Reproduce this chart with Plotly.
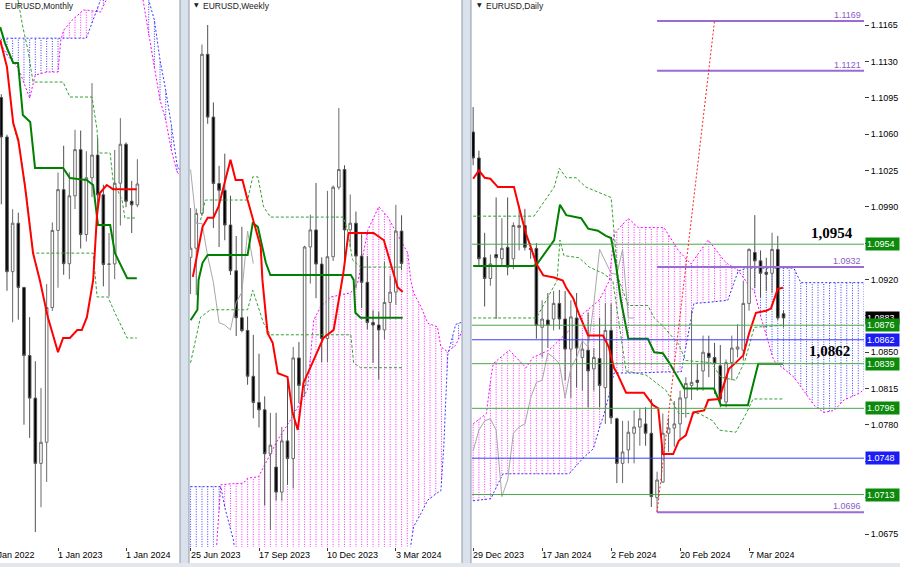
import numpy as np
import plotly.graph_objects as go

# ====================== DATA ======================
# ---------- Monthly (bar index 0 = Jan 2023) ----------
m_x = list(range(-10, 15))
m_open = [1.1220, 1.1067, 1.0545, 1.0733, 1.0484, 1.0220, 1.0055, 0.9802, 0.9884, 1.0406,
          1.0705, 1.0863, 1.0576, 1.0839, 1.1018, 1.0689, 1.0909, 1.0997, 1.0843, 1.0573,
          1.0575, 1.0888, 1.1039, 1.0818, 1.0804]
m_high = [1.1233, 1.1076, 1.0787, 1.0774, 1.0486, 1.0369, 1.0198, 1.0094, 1.0497, 1.0736,
          1.0929, 1.1033, 1.0930, 1.1095, 1.1092, 1.1012, 1.1276, 1.1065, 1.0882, 1.0695,
          1.1017, 1.1140, 1.1046, 1.0897, 1.0981]
m_low = [1.0806, 1.0471, 1.0349, 1.0359, 0.9952, 0.9901, 0.9536, 0.9632, 0.9730, 1.0393,
         1.0483, 1.0533, 1.0516, 1.0788, 1.0635, 1.0662, 1.0834, 1.0766, 1.0488, 1.0448,
         1.0516, 1.0724, 1.0795, 1.0695, 1.0795]
m_close = [1.1067, 1.0545, 1.0733, 1.0484, 1.0220, 1.0055, 0.9802, 0.9884, 1.0406, 1.0705,
           1.0863, 1.0576, 1.0839, 1.1018, 1.0689, 1.0909, 1.0997, 1.0843, 1.0573, 1.0575,
           1.0888, 1.1039, 1.0818, 1.0804, 1.0885]
m_tenkan_x = [-10.2, -9.0, -7.9, -7.0, -5.8, -4.4, -3.2, -1.8, 0, 0.9, 2.1, 3.4, 4.2, 5.1,
              6.2, 6.9, 7.4, 8.6, 9.7, 13.9]
m_tenkan = [1.1443, 1.1338, 1.1121, 1.1055, 1.0873, 1.0617, 1.0512, 1.0369, 1.0233, 1.0288,
            1.0288, 1.0319, 1.0319, 1.0369, 1.0512, 1.0772, 1.0850, 1.0881, 1.0865, 1.0865]
m_kijun_x = [-10.2, -9.35, -7.9, -7.05, -6.2, -4.9, -4.05, 0.9, 2.1, 5.1, 6.2, 7.05, 9.2,
             10.05, 10.9, 12.2, 13.9]
m_kijun = [1.1493, 1.1431, 1.1354, 1.1354, 1.1152, 1.1125, 1.0947, 1.0947, 1.0908, 1.0900,
           1.0881, 1.0726, 1.0726, 1.0617, 1.0578, 1.0520, 1.0520]
m_dash_up_x = [-7.05, -6.2, -5.3, -4.4, 0.9, 2.1, 6.0, 6.9, 7.05, 9.2, 9.7, 11.3, 11.8, 13.9]
m_dash_up = [1.1598, 1.1493, 1.1404, 1.1280, 1.1280, 1.1222, 1.1222, 1.1094, 1.1005, 1.1005,
             1.0900, 1.0823, 1.0753, 1.0753]
m_dash_lo_x = [-7.9, -6.7, -5.5, -4.4, 6.2, 6.9, 8.8, 10.05, 12.2, 13.9]
m_dash_lo = [1.1121, 1.1016, 1.0834, 1.0617, 1.0617, 1.0447, 1.0447, 1.0385, 1.0288, 1.0288]
m_cloud_x = [-10.5, -9, -7, -5.5, -5, -4, -2, 0, 0.5, 1, 2.5, 4.5, 5, 7.5, 8.5, 9.5, 14.5,
             15, 16, 17, 18, 19, 20, 21, 22]
m_span_a = [1.1443, 1.1385, 1.1334, 1.1249, 1.1218, 1.1307, 1.1319, 1.1319, 1.1443, 1.1481,
            1.1520, 1.1559, 1.1559, 1.1551, 1.1598, 1.1700, 1.1700, 1.1598, 1.1462, 1.1338,
            1.1210, 1.1133, 1.1016, 1.0931, 1.0908]
m_span_b = [1.1450, 1.1450, 1.1450, 1.1450, 1.1450, 1.1450, 1.1450, 1.1450, 1.1450, 1.1450,
            1.1450, 1.1450, 1.1450, 1.1598, 1.1650, 1.1700, 1.1700, 1.1650, 1.1598, 1.1520,
            1.1365, 1.1249, 1.1113, 1.0958, 1.0919]
m_date_pos = [-12, 0, 12]
m_date_text = ["1 Jan 2022", "1 Jan 2023", "1 Jan 2024"]

# ---------- Weekly (bar index 0 = 25 Jun 2023) ----------
w_x = list(range(0, 38))
w_open = [1.0895, 1.0910, 1.0967, 1.1228, 1.1125, 1.1016, 1.1005, 1.0948, 1.0873, 1.0796,
          1.0775, 1.0700, 1.0657, 1.0645, 1.0573, 1.0551, 1.0510, 1.0594, 1.0565, 1.0730,
          1.0685, 1.0912, 1.0940, 1.0884, 1.0762, 1.0896, 1.1010, 1.1039, 1.0940, 1.0951,
          1.0897, 1.0854, 1.0788, 1.0784, 1.0776, 1.0821, 1.0838, 1.0938]
w_high = [1.0976, 1.0975, 1.1244, 1.1276, 1.1149, 1.1045, 1.1065, 1.0996, 1.0930, 1.0945,
          1.0798, 1.0768, 1.0737, 1.0667, 1.0640, 1.0640, 1.0617, 1.0695, 1.0748, 1.0756,
          1.0914, 1.0965, 1.1017, 1.0895, 1.1004, 1.1013, 1.1140, 1.1046, 1.0998, 1.0970,
          1.0933, 1.0897, 1.0808, 1.0806, 1.0888, 1.0865, 1.0981, 1.0964]
w_low = [1.0835, 1.0833, 1.0963, 1.1114, 1.0943, 1.0912, 1.0923, 1.0866, 1.0766, 1.0772,
         1.0686, 1.0631, 1.0616, 1.0488, 1.0448, 1.0496, 1.0496, 1.0522, 1.0516, 1.0656,
         1.0667, 1.0852, 1.0828, 1.0723, 1.0723, 1.0889, 1.1006, 1.0877, 1.0911, 1.0844,
         1.0812, 1.0777, 1.0722, 1.0695, 1.0761, 1.0796, 1.0817, 1.0874]
w_close = [1.0910, 1.0967, 1.1228, 1.1125, 1.1016, 1.1005, 1.0948, 1.0873, 1.0796, 1.0775,
           1.0700, 1.0657, 1.0645, 1.0573, 1.0587, 1.0510, 1.0594, 1.0565, 1.0730, 1.0685,
           1.0912, 1.0940, 1.0884, 1.0762, 1.0896, 1.1010, 1.1039, 1.0940, 1.0951, 1.0897,
           1.0854, 1.0788, 1.0784, 1.0776, 1.0821, 1.0838, 1.0938, 1.0885]
w_tenkan_x = [0.4, 2.1, 3.0, 4.0, 4.9, 5.8, 7.0, 7.9, 9.1, 10.0, 11.0, 12.3, 12.6, 13.5, 14.4,
              15.3, 17.0, 17.9, 18.8, 19.8, 21.6, 23.3, 25.1, 26.8, 27.7, 29.3, 32.1, 33.9,
              35.6, 36.3, 37.2]
w_tenkan = [1.0863, 1.0945, 1.0960, 1.0960, 1.0978, 1.1010, 1.1055, 1.1022, 1.1022, 1.0989,
            1.0956, 1.0912, 1.0858, 1.0771, 1.0755, 1.0705, 1.0699, 1.0640, 1.0612, 1.0689,
            1.0727, 1.0763, 1.0776, 1.0870, 1.0935, 1.0935, 1.0935, 1.0923, 1.0869, 1.0846,
            1.0838]
w_kijun_x = [0, 1.2, 1.4, 2.1, 3.0, 10.0, 10.9, 11.8, 13.2, 14.0, 28.1, 28.6, 28.9, 29.8, 37.2]
w_kijun = [1.0792, 1.0809, 1.0858, 1.0886, 1.0899, 1.0899, 1.0951, 1.0945, 1.0886, 1.0866,
           1.0866, 1.0858, 1.0804, 1.0796, 1.0796]
w_dash_up_x = [1.75, 2.6, 10.0, 10.9, 11.8, 12.8, 14.0, 26.8, 27.5, 28.4, 29.8, 37.2]
w_dash_up = [1.0956, 1.0989, 1.0989, 1.1027, 1.1027, 1.0978, 1.0961, 1.0961, 1.0940, 1.0891,
             1.0879, 1.0879]
w_dash_lo_x = [0, 1.75, 3.5, 10.0, 10.9, 12.8, 14.0, 28.1, 28.6, 29.8, 37.2]
w_dash_lo = [1.0722, 1.0797, 1.0809, 1.0809, 1.0841, 1.0787, 1.0768, 1.0768, 1.0722, 1.0714,
             1.0714]
w_chikou_x = list(range(0, 12))
w_chikou = [1.1039, 1.0950, 1.0951, 1.0897, 1.0854, 1.0788, 1.0784, 1.0776, 1.0821, 1.0838,
            1.0938, 1.0885]
w_cloud_x = [0, 4.4, 5.3, 6.1, 7.5, 8.4, 9.3, 10, 11.9, 12.8, 15.3, 17.5, 20.5, 21.6, 22.8,
             24.6, 28.1, 29.3, 31.1, 33.0, 34.6, 36.3, 37.7, 38.1, 38.6, 39.1, 40.4, 41.6,
             43.3, 43.9, 44.4, 45.1, 46.5, 47.7]
w_span_a = [1.0399, 1.0399, 1.0522, 1.0523, 1.0524, 1.0524, 1.0525, 1.0533, 1.0535, 1.0551,
            1.0596, 1.0628, 1.0678, 1.0792, 1.0814, 1.0830, 1.0837, 1.0853, 1.0940, 1.0978,
            1.0961, 1.0932, 1.0910, 1.0902, 1.0858, 1.0837, 1.0814, 1.0787, 1.0781, 1.0748,
            1.0745, 1.0740, 1.0751, 1.0776]
w_span_b = [1.0519, 1.0519, 1.0519, 1.0481, 1.0432, 1.0366, 1.0366, 1.0366, 1.0366, 1.0366,
            1.0366, 1.0366, 1.0366, 1.0366, 1.0366, 1.0366, 1.0366, 1.0366, 1.0366, 1.0366,
            1.0366, 1.0366, 1.0366, 1.0390, 1.0420, 1.0453, 1.0475, 1.0497, 1.0509, 1.0512,
            1.0584, 1.0735, 1.0785, 1.0789]
w_date_pos = [0, 12, 24, 36]
w_date_text = ["25 Jun 2023", "17 Sep 2023", "10 Dec 2023", "3 Mar 2024"]

# ---------- Daily (bar index 0 = 29 Dec 2023) ----------
d_x = list(range(0, 55))
d_open = [1.1062, 1.1037, 1.0941, 1.0921, 1.0944, 1.0940, 1.0951, 1.0940, 1.0970, 1.0972,
          1.0950, 1.0950, 1.0874, 1.0881, 1.0882, 1.0897, 1.0882, 1.0853, 1.0883, 1.0845,
          1.0852, 1.0834, 1.0844, 1.0816, 1.0871, 1.0786, 1.0743, 1.0756, 1.0772, 1.0778,
          1.0781, 1.0772, 1.0710, 1.0725, 1.0772, 1.0777, 1.0781, 1.0806, 1.0818, 1.0823,
          1.0832, 1.0849, 1.0845, 1.0837, 1.0802, 1.0840, 1.0853, 1.0852, 1.0897, 1.0946,
          1.0938, 1.0927, 1.0926, 1.0949, 1.0887]
d_high = [1.1086, 1.1044, 1.0965, 1.0944, 1.0999, 1.0979, 1.0999, 1.0975, 1.0991, 1.0988,
          1.0955, 1.0955, 1.0900, 1.0907, 1.0909, 1.0910, 1.0909, 1.0900, 1.0907, 1.0861,
          1.0888, 1.0854, 1.0883, 1.0897, 1.0897, 1.0787, 1.0784, 1.0784, 1.0794, 1.0796,
          1.0797, 1.0805, 1.0735, 1.0791, 1.0787, 1.0803, 1.0813, 1.0826, 1.0890, 1.0839,
          1.0866, 1.0866, 1.0859, 1.0857, 1.0843, 1.0866, 1.0877, 1.0919, 1.0950, 1.0982,
          1.0948, 1.0941, 1.0965, 1.0962, 1.0890]
d_low = [1.1030, 1.0933, 1.0894, 1.0914, 1.0882, 1.0933, 1.0924, 1.0930, 1.0948, 1.0948,
         1.0940, 1.0863, 1.0845, 1.0854, 1.0871, 1.0872, 1.0823, 1.0806, 1.0816, 1.0813,
         1.0797, 1.0813, 1.0797, 1.0781, 1.0781, 1.0724, 1.0724, 1.0743, 1.0743, 1.0760,
         1.0760, 1.0701, 1.0696, 1.0724, 1.0754, 1.0759, 1.0765, 1.0787, 1.0804, 1.0813,
         1.0813, 1.0826, 1.0810, 1.0797, 1.0797, 1.0823, 1.0845, 1.0842, 1.0890, 1.0912,
         1.0903, 1.0909, 1.0907, 1.0881, 1.0874]
d_close = [1.1037, 1.0940, 1.0921, 1.0935, 1.0941, 1.0950, 1.0932, 1.0972, 1.0972, 1.0951,
           1.0949, 1.0876, 1.0882, 1.0876, 1.0897, 1.0882, 1.0853, 1.0884, 1.0854, 1.0853,
           1.0832, 1.0845, 1.0818, 1.0871, 1.0787, 1.0743, 1.0754, 1.0773, 1.0778, 1.0786,
           1.0772, 1.0711, 1.0727, 1.0772, 1.0777, 1.0781, 1.0806, 1.0820, 1.0821, 1.0821,
           1.0850, 1.0845, 1.0839, 1.0805, 1.0840, 1.0854, 1.0855, 1.0897, 1.0949, 1.0938,
           1.0926, 1.0925, 1.0949, 1.0883, 1.0883]
d_tenkan_x = [0, 1, 2, 3, 4.3, 7.1, 8, 9.2, 10.1, 11, 12.2, 14.1, 15.6, 16.2, 17.4, 18.4, 20,
              22.6, 23.6, 24.5, 25.2, 26.6, 29.7, 31.3, 32.2, 33, 34.8, 35.8, 37, 38.3, 40.2,
              40.9, 42.8, 44.5, 45.7, 47, 48, 49.2, 51, 51.8, 53, 53.9]
d_tenkan = [1.1017, 1.1025, 1.1018, 1.1017, 1.1009, 1.1009, 1.0989, 1.0964, 1.0950, 1.0935,
            1.0924, 1.0922, 1.0919, 1.0912, 1.0902, 1.0887, 1.0866, 1.0866, 1.0855, 1.0835,
            1.0828, 1.0811, 1.0811, 1.0799, 1.0796, 1.0752, 1.0752, 1.0765, 1.0770, 1.0792,
            1.0794, 1.0804, 1.0805, 1.0834, 1.0840, 1.0847, 1.0868, 1.0888, 1.0890, 1.0892,
            1.0911, 1.0912]
d_kijun_x = [0, 10.4, 11, 14.1, 15.1, 16.2, 18.8, 20, 21.7, 23.1, 24, 24.9, 25.7, 27, 30.4,
             31.5, 33, 34.1, 36.2, 36.7, 41.9, 43.1, 47.8, 48.7, 49.6, 53.9]
d_kijun = [1.0933, 1.0933, 1.0934, 1.0958, 1.0992, 1.0982, 1.0979, 1.0969, 1.0967, 1.0962,
           1.0960, 1.0932, 1.0900, 1.0863, 1.0863, 1.0850, 1.0849, 1.0840, 1.0820, 1.0815,
           1.0815, 1.0799, 1.0799, 1.0820, 1.0839, 1.0839]
d_dash_up_x = [0, 10.6, 14.1, 15.0, 16.2, 17.9, 19.6, 21.9, 24.0, 25.2, 27.0, 30.4, 31.5,
               33.2, 35.7, 37.0, 41.4, 43.1, 45.7, 47.3, 48.9, 53.9]
d_dash_up = [1.0981, 1.0981, 1.1009, 1.1027, 1.1018, 1.1018, 1.1009, 1.1004, 1.0999, 1.0922,
             1.0895, 1.0895, 1.0883, 1.0874, 1.0858, 1.0842, 1.0840, 1.0826, 1.0823, 1.0842,
             1.0874, 1.0876]
d_dash_lo_x = [0, 11, 13.4, 14.6, 15.1, 15.8, 18.4, 20.2, 22.6, 24.3, 26.6, 30.1, 33.6, 35.8,
               39.3, 41.7, 42.8, 45.7, 47.5, 48.7, 53.9]
d_dash_lo = [1.0883, 1.0883, 1.0907, 1.0919, 1.0958, 1.0943, 1.0941, 1.0932, 1.0926, 1.0919,
             1.0832, 1.0828, 1.0813, 1.0791, 1.0791, 1.0784, 1.0775, 1.0773, 1.0791, 1.0805,
             1.0805]
d_chikou_x = list(range(0, 29))
d_chikou = [1.0755, 1.0775, 1.0784, 1.0786, 1.0775, 1.0711, 1.0727, 1.0772, 1.0778, 1.0781,
            1.0806, 1.0821, 1.0823, 1.0849, 1.0845, 1.0839, 1.0806, 1.0835, 1.0845, 1.0861,
            1.0855, 1.0897, 1.0949, 1.0938, 1.0926, 1.0925, 1.0949, 1.0883, 1.0883]
d_cloud_x = [0, 2.3, 3.1, 3.5, 5.2, 6.3, 9.2, 10.4, 13.2, 16.2, 16.7, 19.1, 20.9, 21.9, 22.8,
             23.7, 24.5, 27.0, 28.7, 33.2, 35.7, 36.2, 37.9, 38.4, 40.9, 43.7, 44.3, 46.1,
             47.5, 48.9, 50.1, 52.3, 55.8, 57.0, 59.3, 61.0, 62.8, 64.5, 67.0, 68.5]
d_span_a = [1.0781, 1.0791, 1.0826, 1.0839, 1.0847, 1.0852, 1.0835, 1.0845, 1.0852, 1.0868,
            1.0871, 1.0887, 1.0895, 1.0900, 1.0909, 1.0919, 1.0964, 1.0979, 1.0970, 1.0970,
            1.0948, 1.0945, 1.0935, 1.0939, 1.0958, 1.0938, 1.0935, 1.0929, 1.0918, 1.0909,
            1.0883, 1.0842, 1.0826, 1.0817, 1.0799, 1.0792, 1.0794, 1.0804, 1.0810, 1.0816]
d_span_b = [1.0707, 1.0708, 1.0709, 1.0714, 1.0733, 1.0733, 1.0733, 1.0733, 1.0733, 1.0733,
            1.0733, 1.0748, 1.0757, 1.0776, 1.0791, 1.0810, 1.0830, 1.0830, 1.0830, 1.0831,
            1.0831, 1.0831, 1.0882, 1.0897, 1.0898, 1.0900, 1.0900, 1.0928, 1.0931, 1.0931,
            1.0931, 1.0931, 1.0931, 1.0917, 1.0917, 1.0917, 1.0917, 1.0917, 1.0917, 1.0917]
d_date_pos = [0, 12, 24, 36, 48]
d_date_text = ["29 Dec 2023", "17 Jan 2024", "2 Feb 2024", "20 Feb 2024", "7 Mar 2024"]
d_price_ticks = [1.1165, 1.1130, 1.1095, 1.1060, 1.1025, 1.0990, 1.0955, 1.0920, 1.0885,
                 1.0850, 1.0815, 1.0780, 1.0745, 1.0710, 1.0675]
# tick labels that sit under a coloured price box are not shown
d_price_ticks_hidden = [1.0955, 1.0885, 1.0745, 1.0710]
d_full_levels = [1.0954, 1.0876, 1.0862, 1.0839, 1.0796, 1.0748, 1.0713]
d_full_kinds = ["g", "g", "b", "g", "g", "b", "g"]
d_target_levels = [1.1169, 1.1121, 1.0932, 1.0696]
d_target_start_bar = 32
d_ray_bars = [32, 42]
d_ray_prices = [1.0696, 1.1169]
d_box_levels = [1.0954, 1.0883, 1.0876, 1.0862, 1.0839, 1.0796, 1.0748, 1.0713]
d_box_kinds = ["g", "k", "g", "b", "g", "g", "b", "g"]
d_big_labels = ["1,0954", "1,0862"]
d_big_levels = [1.0954, 1.0862]

# ====================== STYLE / LAYOUT ======================
W, H = 900, 567
FONT = "Liberation Sans"
Y_DOM = [20 / H, 1.0]
PANELS = {
    "m": dict(xa="x", ya="y", dom=[0 / W, 180 / W], xr=[-10.23, 21.52], yr=[0.9478, 1.1598]),
    "w": dict(xa="x2", ya="y2", dom=[190 / W, 462 / W], xr=[-0.1, 47.6], yr=[1.0420, 1.1317]),
    "d": dict(xa="x3", ya="y3", dom=[472 / W, 864 / W], xr=[-0.2, 68.0], yr=[1.06625, 1.11891]),
}
RED = "#ff0000"
KIJUN = "#008000"
DASHG = "#33a033"
PINK = "#ff00ff"
BLUE = "#3333ff"
PINK_H = "#ff2cff"
BLUE_H = "#3c3cff"
GRAY = "#a8a8a8"
PURPLE = "#9a6ad6"
LVL = {"g": "#4aa84a", "b": "#3c3cff"}
BOX = {"g": "#0b8a0b", "b": "#1c1cf5", "k": "#000000"}

fig = go.Figure()


def add_line(x, y, p, color, width, dash="solid", z=2):
    fig.add_trace(go.Scatter(x=list(x), y=list(y), mode="lines",
                             line=dict(color=color, width=width, dash=dash),
                             xaxis=PANELS[p]["xa"], yaxis=PANELS[p]["ya"],
                             hoverinfo="skip", showlegend=False, zorder=z))


def add_cloud(cx, a, b, p):
    cx = np.asarray(cx, float)
    a = np.asarray(a, float)
    b = np.asarray(b, float)
    bars = np.arange(np.ceil(cx[0]), np.floor(cx[-1]) + 1)
    A = np.interp(bars, cx, a)
    B = np.interp(bars, cx, b)
    px, py, bx, by = [], [], [], []
    for xi, ai, bi in zip(bars, A, B):
        if ai >= bi:
            px += [float(xi), float(xi), None]
            py += [float(bi), float(ai), None]
        else:
            bx += [float(xi), float(xi), None]
            by += [float(ai), float(bi), None]
    add_line(px, py, p, PINK_H, 1, "1px,1.5px", z=0)
    add_line(bx, by, p, BLUE_H, 1, "1px,1.5px", z=0)
    add_line(cx, a, p, PINK, 1, "2px,2px", z=0)
    add_line(cx, b, p, BLUE, 1, "2px,2px", z=0)


def add_candles(x, o, h, l, c, p):
    fig.add_trace(go.Candlestick(
        x=x, open=o, high=h, low=l, close=c,
        xaxis=PANELS[p]["xa"], yaxis=PANELS[p]["ya"],
        increasing=dict(line=dict(color="#6a6a6a", width=1), fillcolor="#ffffff"),
        decreasing=dict(line=dict(color="#505050", width=1), fillcolor="#000000"),
        whiskerwidth=0, hoverinfo="skip", showlegend=False, zorder=1))


# Monthly
add_cloud(m_cloud_x, m_span_a, m_span_b, "m")
add_candles(m_x, m_open, m_high, m_low, m_close, "m")
add_line(m_dash_up_x, m_dash_up, "m", DASHG, 1, "3px,2px")
add_line(m_dash_lo_x, m_dash_lo, "m", DASHG, 1, "3px,2px")
add_line(m_kijun_x, m_kijun, "m", KIJUN, 2)
add_line(m_tenkan_x, m_tenkan, "m", RED, 2)

# Weekly
add_cloud(w_cloud_x, w_span_a, w_span_b, "w")
add_candles(w_x, w_open, w_high, w_low, w_close, "w")
add_line(w_chikou_x, w_chikou, "w", GRAY, 1)
add_line(w_dash_up_x, w_dash_up, "w", DASHG, 1, "3px,2px")
add_line(w_dash_lo_x, w_dash_lo, "w", DASHG, 1, "3px,2px")
add_line(w_kijun_x, w_kijun, "w", KIJUN, 2)
add_line(w_tenkan_x, w_tenkan, "w", RED, 2)

# Daily
add_cloud(d_cloud_x, d_span_a, d_span_b, "d")
add_candles(d_x, d_open, d_high, d_low, d_close, "d")
add_line(d_chikou_x, d_chikou, "d", GRAY, 1)
add_line(d_dash_up_x, d_dash_up, "d", DASHG, 1, "3px,2px")
add_line(d_dash_lo_x, d_dash_lo, "d", DASHG, 1, "3px,2px")
add_line(d_kijun_x, d_kijun, "d", KIJUN, 2)
add_line(d_tenkan_x, d_tenkan, "d", RED, 2)

# ---------- axes ----------
layout_axes = {}
for i, (key, p) in enumerate(PANELS.items()):
    sfx = "" if i == 0 else str(i + 1)
    datepos = {"m": m_date_pos, "w": w_date_pos, "d": d_date_pos}[key]
    layout_axes["xaxis" + sfx] = dict(
        domain=p["dom"], range=p["xr"], anchor=p["ya"], showgrid=False, zeroline=False,
        showline=True, linecolor="#3a3a3a", linewidth=1, ticks="outside", ticklen=3,
        tickcolor="#3a3a3a", tickvals=datepos, showticklabels=False,
        rangeslider=dict(visible=False), fixedrange=True)
    ya = dict(domain=Y_DOM, range=p["yr"], anchor=p["xa"], showgrid=False, zeroline=False,
              fixedrange=True)
    if key == "d":
        ya.update(side="right", showline=True, linecolor="#3a3a3a", linewidth=1,
                  ticks="outside", ticklen=4, tickcolor="#3a3a3a",
                  tickvals=d_price_ticks,
                  ticktext=["" if v in d_price_ticks_hidden else f"{v:.4f}" for v in d_price_ticks],
                  tickfont=dict(family=FONT, size=9, color="#000000"))
    else:
        ya.update(visible=False)
    layout_axes["yaxis" + sfx] = ya


def xp(key, v):
    p = PANELS[key]
    return p["dom"][0] + (v - p["xr"][0]) / (p["xr"][1] - p["xr"][0]) * (p["dom"][1] - p["dom"][0])


annotations = []
LABEL_Y = (H - 555) / H
for key, poss, txts in (("m", m_date_pos, m_date_text), ("w", w_date_pos, w_date_text),
                        ("d", d_date_pos, d_date_text)):
    for v, t in zip(poss, txts):
        annotations.append(dict(x=xp(key, v), xref="paper", y=LABEL_Y, yref="paper", text=t,
                                showarrow=False, xanchor="left", yanchor="middle",
                                xshift=-2, font=dict(family=FONT, size=9, color="#000000")))

# titles
for x0, txt, tri in ((1, "EURUSD,Monthly", False), (199, "EURUSD,Weekly", True),
                     (482, "EURUSD,Daily", True)):
    annotations.append(dict(x=(x0 + 2) / W, xref="paper", y=1, yref="paper", text=txt,
                            showarrow=False, xanchor="left", yanchor="top", yshift=1,
                            font=dict(family=FONT, size=8.5, color="#202020")))
    if tri:
        annotations.append(dict(x=(x0 - 7) / W, xref="paper", y=1, yref="paper", text="▼",
                                showarrow=False, xanchor="left", yanchor="top", yshift=1,
                                font=dict(family="DejaVu Sans", size=6, color="#202020")))

# price boxes on the daily axis
for v, k in zip(d_box_levels, d_box_kinds):
    annotations.append(dict(x=865 / W, xref="paper", y=v, yref="y3", text=f"{v:.4f}",
                            showarrow=False, xanchor="left", yanchor="middle", align="left",
                            bgcolor=BOX[k], borderpad=1, width=31,
                            font=dict(family=FONT, size=9, color="#ffffff")))

# purple target labels
for v in d_target_levels:
    annotations.append(dict(x=863 / W, xref="paper", y=v, yref="y3", text=f"{v:.4f}",
                            showarrow=False, xanchor="right", yanchor="bottom", yshift=-1,
                            font=dict(family=FONT, size=9, color="#8a5cc8")))

# big bold level labels
for t, v, up in zip(d_big_labels, d_big_levels, (True, False)):
    annotations.append(dict(x=(855 if up else 852) / W, xref="paper", y=v, yref="y3",
                            text=f"<b>{t}</b>", showarrow=False, xanchor="right",
                            yanchor="bottom" if up else "top", yshift=1 if up else -1,
                            font=dict(family="Liberation Serif", size=15, color="#000000")))

shapes = []
# window gaps / frames
for gx0, gx1 in ((180, 189), (462, 471)):
    shapes.append(dict(type="rect", xref="paper", yref="paper", x0=gx0 / W, x1=gx1 / W,
                       y0=0, y1=1, fillcolor="#d9e2ec", line=dict(width=0), layer="above"))
    for lx in (gx0, gx1):
        shapes.append(dict(type="line", xref="paper", yref="paper", x0=lx / W, x1=lx / W,
                           y0=0, y1=1, line=dict(color="#8e99a6", width=1), layer="above"))
shapes.append(dict(type="rect", xref="paper", yref="paper", x0=0, x1=1, y0=0, y1=4 / H,
                   fillcolor="#e3e7ed", line=dict(width=0), layer="above"))

# daily horizontal levels
for v, k in zip(d_full_levels, d_full_kinds):
    shapes.append(dict(type="line", xref="x3 domain", x0=0, x1=1, yref="y3", y0=v, y1=v,
                       line=dict(color=LVL[k], width=1)))
for v in d_target_levels:
    shapes.append(dict(type="line", xref="x3", x0=d_target_start_bar, x1=PANELS["d"]["xr"][1],
                       yref="y3", y0=v, y1=v, line=dict(color=PURPLE, width=2)))
shapes.append(dict(type="line", xref="x3", yref="y3", x0=d_ray_bars[0], x1=d_ray_bars[1],
                   y0=d_ray_prices[0], y1=d_ray_prices[1],
                   line=dict(color="#ff2020", width=1, dash="2px,2px")))

fig.update_layout(
    width=W, height=H, margin=dict(l=0, r=0, t=0, b=0),
    paper_bgcolor="#ffffff", plot_bgcolor="#ffffff",
    showlegend=False, hovermode=False, boxgap=0.35,
    annotations=annotations, shapes=shapes, **layout_axes)

fig.write_html("out.html", config={"displayModeBar": False},
               post_script="document.body.style.margin='0';document.body.style.overflow='hidden';")
